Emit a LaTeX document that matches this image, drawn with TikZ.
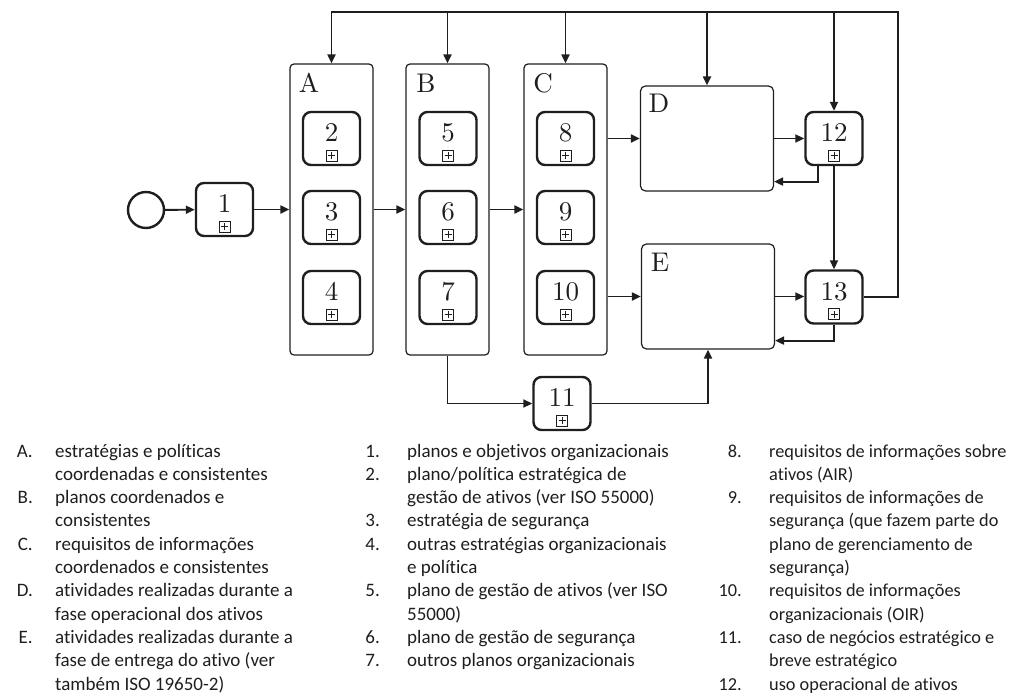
\documentclass[tikz,border=0pt]{standalone}
\usepackage{fontspec}
\newfontfamily\legendfont[Ligatures=NoCommon]{Carlito}
\newfontfamily\diagfont{lmroman10-regular.otf}
\usetikzlibrary{arrows.meta}

\definecolor{ink}{HTML}{1E1E1E}

\tikzset{
  conn/.style={draw=ink, line width=1.9pt, -{Triangle[length=9pt,width=8pt]}},
  group/.style={draw=ink, line width=1.2pt, rounded corners=4pt,
    minimum width=83pt, minimum height=291pt, inner sep=0pt},
  phase/.style={draw=ink, line width=1.2pt, rounded corners=5pt,
    minimum width=133pt, minimum height=105pt, inner sep=0pt},
  glabel/.style={font=\diagfont\fontsize{27}{27}\selectfont, text=ink, inner sep=0pt},
  task/.style={draw=ink, line width=2.4pt, rounded corners=8pt,
    minimum width=57pt, minimum height=53pt, inner sep=0pt,
    font=\diagfont\fontsize{27}{27}\selectfont, text=ink,
    text height=19pt, text depth=13pt,
    path picture={
      \draw[sharp corners, line width=0.8pt, draw=ink]
        ([xshift=-5.5pt,yshift=4pt]path picture bounding box.south)
        rectangle ++(11pt,11pt);
      \draw[sharp corners, line width=0.9pt, draw=ink]
        ([xshift=-3.5pt,yshift=9.5pt]path picture bounding box.south) -- ++(7pt,0pt)
        ([yshift=6pt]path picture bounding box.south) -- ++(0pt,7pt);
    }},
  start/.style={draw=ink, line width=2.4pt, circle, minimum size=36pt, inner sep=0pt},
  legnum/.style={font=\legendfont\fontsize{19}{23.3}\selectfont, text=ink, inner sep=0pt},
  legtxt/.style={font=\legendfont\fontsize{19}{23.3}\selectfont, text=ink, inner sep=0pt, align=left},
  legnarrow/.style={font=\legendfont\fontsize{18.3}{23.3}\selectfont},
}

% one legend entry: name, number x (right edge), text x, first row, last row, number, text
\newcommand\legentry[8][]{%
  \node[legnum, #1, anchor=base east] (#2n) at (#3, {457+23.3*#5}) {#7};
  \node[legtxt, #1, anchor=base west] (#2t) at (#4, {457+23.3*#6}) {#8};}

\begin{document}
\begin{tikzpicture}[x=1pt, y=-1pt]
\useasboundingbox (0,0) rectangle (1010,699);

% process start and first task
\node[start] (s) at (146,210) {};
\node[task] (t1) at (224.5,209.5) {1};

% coordinated groups
\node[group] (A) at (331.5,209.5) {};
\node[group] (B) at (447.5,209.5) {};
\node[group] (C) at (565.5,209.5) {};
\node[glabel] (lA) at (309,83) {A};
\node[glabel] (lB) at (426,83) {B};
\node[glabel] (lC) at (543,83) {C};

\node[task] (t2)  at (331.5,138.5) {2};
\node[task] (t3)  at (331.5,217.5) {3};
\node[task] (t4)  at (331.5,297.5) {4};
\node[task] (t5)  at (448,138.5) {5};
\node[task] (t6)  at (448,217.5) {6};
\node[task] (t7)  at (448,297.5) {7};
\node[task] (t8)  at (565.5,138.5) {8};
\node[task] (t9)  at (565.5,217.5) {9};
\node[task] (t10) at (565.5,297.5) {10};

% operational and delivery phases
\node[phase] (D) at (707,138.5) {};
\node[phase] (E) at (708,296.5) {};
\node[glabel] (lD) at (659,103) {D};
\node[glabel] (lE) at (660,262) {E};

\node[task] (t12) at (834,138.5) {12};
\node[task] (t13) at (834,297) {13};
\node[task] (t11) at (562,403.5) {11};

% main flow
\draw[conn] (s) -- (t1);
\draw[conn] (t1) -- (A);
\draw[conn] (A) -- (B);
\draw[conn] (B) -- (C);
\draw[conn] (D.west -| C.east) -- (D.west);
\draw[conn] (E.west -| C.east) -- (E.west);
\draw[conn] (D) -- (t12);
\draw[conn] (E.east) -- (E.east -| t13.west);
\draw[conn] ([xshift=-16pt]t12.south) |- ([yshift=10pt]D.south east);
\draw[conn] (t12) -- (t13);
\draw[conn] (t13.south) |- ([yshift=9pt]E.south east);
\draw[conn] (B.south) |- (t11.west);
\draw[conn] (t11.east) -| (E.south);

% feedback loop along the top
\coordinate (tr) at (898,12);
\draw[conn] (t13.east) -| (tr) -| (A.north);
\draw[conn] (B.north |- tr) -- (B.north);
\draw[conn] (C.north |- tr) -- (C.north);
\draw[conn] (D.north |- tr) -- (D.north);
\draw[conn] (t12.north |- tr) -- (t12.north);

% legend
\legentry{la}{33}{55}{0}{1}{A.}{estratégias e políticas\\coordenadas e consistentes}
\legentry{lb}{33}{55}{2}{3}{B.}{planos coordenados e\\consistentes}
\legentry{lc}{33}{55}{4}{5}{C.}{requisitos de informações\\coordenados e consistentes}
\legentry{ld}{33}{55}{6}{7}{D.}{atividades realizadas durante a\\fase operacional dos ativos}
\legentry{le}{33}{55}{8}{10}{E.}{atividades realizadas durante a\\fase de entrega do ativo (ver\\também ISO 19650-2)}

\legentry{l1}{380}{407}{0}{0}{1.}{planos e objetivos organizacionais}
\legentry{l2}{380}{407}{1}{2}{2.}{plano/política estratégica de\\gestão de ativos (ver ISO 55000)}
\legentry{l3}{380}{407}{3}{3}{3.}{estratégia de segurança}
\legentry{l4}{380}{407}{4}{5}{4.}{outras estratégias organizacionais\\e política}
\legentry{l5}{380}{407}{6}{7}{5.}{plano de gestão de ativos (ver ISO\\55000)}
\legentry{l6}{380}{407}{8}{8}{6.}{plano de gestão de segurança}
\legentry{l7}{380}{407}{9}{9}{7.}{outros planos organizacionais}

\legentry[legnarrow]{l8}{742}{769}{0}{1}{8.}{requisitos de informações sobre\\ativos (AIR)}
\legentry[legnarrow]{l9}{742}{769}{2}{5}{9.}{requisitos de informações de\\segurança (que fazem parte do\\plano de gerenciamento de\\segurança)}
\legentry[legnarrow]{l10}{742}{769}{6}{7}{10.}{requisitos de informações\\organizacionais (OIR)}
\legentry[legnarrow]{l11}{742}{769}{8}{9}{11.}{caso de negócios estratégico e\\breve estratégico}
\legentry[legnarrow]{l12}{742}{769}{10}{10}{12.}{uso operacional de ativos}
\end{tikzpicture}
\end{document}
